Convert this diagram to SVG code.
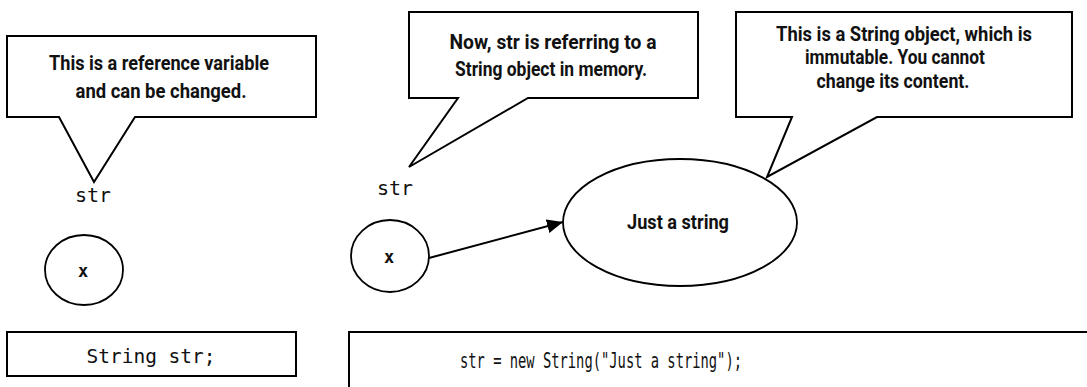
<svg xmlns="http://www.w3.org/2000/svg" width="1087" height="387" viewBox="0 0 1087 387">
<defs>
<style>
.shape{fill:#fff;stroke:#000;stroke-width:2;stroke-linejoin:miter}
.oval{fill:#fff;stroke:#000;stroke-width:1.8}
.note{font-family:Roboto,"Liberation Sans",sans-serif;font-weight:bold;font-size:20.5px;fill:#111;text-anchor:middle}
.code{font-family:"DejaVu Sans Mono","Liberation Mono",monospace;font-size:20px;fill:#111;text-anchor:middle}
.code2{font-family:"DejaVu Sans Mono","Liberation Mono",monospace;font-size:21px;fill:#111;text-anchor:middle}
.var{font-family:"DejaVu Sans Mono","Liberation Mono",monospace;font-size:17px;font-weight:bold;fill:#111;text-anchor:middle}
.edge{stroke:#000;stroke-width:2;fill:none}
</style>
<marker id="arrow" markerWidth="16" markerHeight="14" refX="16" refY="7" orient="auto" markerUnits="userSpaceOnUse">
<path d="M0,0 L16,7 L0,14 Z" fill="#000"/>
</marker>
</defs>
<rect width="1087" height="387" fill="#fff"/>

<g id="callout-left">
<path class="shape" d="M7,36 H316 V117 H135 L94,182 L59,117 H7 Z"/>
<text class="note" x="159" y="70" textLength="220" lengthAdjust="spacingAndGlyphs">This is a reference variable</text>
<text class="note" x="161" y="98" textLength="171" lengthAdjust="spacingAndGlyphs">and can be changed.</text>
</g>

<g id="str-left">
<text class="code" x="93" y="202">str</text>
</g>

<g id="ref-left">
<ellipse class="oval" cx="84" cy="270" rx="39" ry="35"/>
<text class="var" x="83" y="277">x</text>
</g>

<g id="code-left">
<rect class="shape" x="7" y="332" width="289" height="44"/>
<text class="code" x="151" y="363" textLength="129" lengthAdjust="spacingAndGlyphs">String str;</text>
</g>

<g id="callout-middle">
<path class="shape" d="M409,12 H698 V98 H528 L409,167 L458,98 H409 Z"/>
<text class="note" x="553" y="49" textLength="207" lengthAdjust="spacingAndGlyphs">Now, str is referring to a</text>
<text class="note" x="551" y="76" textLength="192" lengthAdjust="spacingAndGlyphs">String object in memory.</text>
</g>

<g id="str-middle">
<text class="code" x="395" y="195">str</text>
</g>

<g id="ref-middle">
<ellipse class="oval" cx="390" cy="256" rx="39" ry="36"/>
<text class="var" x="389" y="263">x</text>
</g>

<g id="string-object">
<ellipse class="oval" cx="680" cy="222.5" rx="117" ry="63.5"/>
<text class="note" x="678" y="229" textLength="102" lengthAdjust="spacingAndGlyphs">Just a string</text>
</g>

<g id="callout-right">
<path class="shape" d="M736,12 H1072 V117 H877 L767,177 L792,117 H736 Z"/>
<text class="note" x="904" y="41" textLength="256" lengthAdjust="spacingAndGlyphs">This is a String object, which is</text>
<text class="note" x="895" y="64" textLength="180" lengthAdjust="spacingAndGlyphs">immutable. You cannot</text>
<text class="note" x="893" y="88" textLength="153" lengthAdjust="spacingAndGlyphs">change its content.</text>
</g>

<g id="code-right">
<rect class="shape" x="349" y="332" width="745" height="60"/>
<text class="code2" x="601" y="368" textLength="282" lengthAdjust="spacingAndGlyphs">str = new String("Just a string");</text>
</g>

<g id="connectors">
<line class="edge" x1="429" y1="258" x2="563" y2="222" marker-end="url(#arrow)"/>
</g>
</svg>
